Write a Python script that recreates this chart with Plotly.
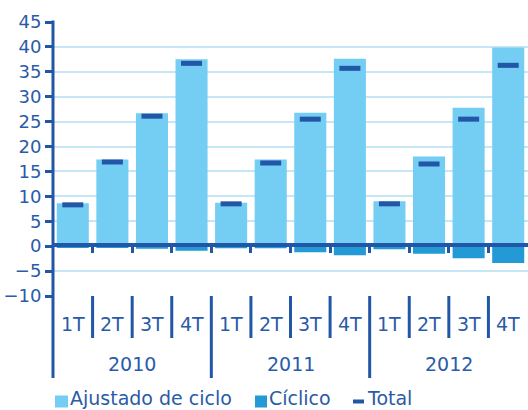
import plotly.graph_objects as go

# Quarterly breakdown: cycle-adjusted component, cyclical component and total
years = ["2010", "2011", "2012"]
quarters = ["1T", "2T", "3T", "4T"]
ajustado = [8.6, 17.4, 26.7, 37.5, 8.7, 17.4, 26.8, 37.6, 9.0, 18.0, 27.8, 39.9]
ciclico = [-0.2, -0.3, -0.5, -0.9, -0.4, -0.4, -1.2, -1.8, -0.6, -1.5, -2.4, -3.4]
total = [8.3, 16.9, 26.1, 36.7, 8.5, 16.7, 25.5, 35.7, 8.5, 16.5, 25.5, 36.3]
y_ticks = [-10, -5, 0, 5, 10, 15, 20, 25, 30, 35, 40, 45]
series_names = ["Ajustado de ciclo", "Cíclico", "Total"]

LIGHT = "#74CDF3"
MID = "#2399D6"
DARK = "#2256A6"
TEXT = "#2A5BA8"
GRID = "#C6E6F6"
FONT = "DejaVu Sans"

n = len(ajustado)
xs = list(range(n))
x_range = [-0.5, n - 0.5]
y_min, y_max = y_ticks[0], y_ticks[-1]

# plot-area geometry in pixels (used to place decorations outside the axes)
W, H = 528, 410
ML, MR, MT, MB = 53, 0, 22, 114
plot_w = W - ML - MR
plot_h = H - MT - MB


def px_x(px):
    return (px - ML) / plot_w


def px_y(py):
    return (H - MB - py) / plot_h


fig = go.Figure()
fig.add_trace(go.Bar(x=xs, y=ajustado, name=series_names[0], showlegend=False,
                     marker=dict(color=LIGHT, line=dict(width=0))))
fig.add_trace(go.Bar(x=xs, y=ciclico, name=series_names[1], showlegend=False,
                     marker=dict(color=MID, line=dict(width=0))))
fig.add_trace(go.Scatter(x=xs, y=total, name=series_names[2], mode="markers",
                         xaxis="x2", showlegend=False,
                         marker=dict(symbol="line-ew", size=15, color=DARK,
                                     line=dict(width=5, color=DARK))))

# separators under the plot: short ones between quarters, long ones between years
q_bottom = px_y(338)
y_bottom = px_y(378)
shapes = [dict(type="line", xref="paper", yref="paper", x0=0, x1=0,
               y0=px_y(20.5), y1=y_bottom, line=dict(color=DARK, width=3))]
per_year = len(quarters)
for k in range(1, n):
    is_year = k % per_year == 0
    shapes.append(dict(type="line", xref="x", yref="paper", x0=k - 0.5, x1=k - 0.5,
                       y0=0, y1=y_bottom if is_year else q_bottom,
                       line=dict(color=DARK, width=3)))

lab_font = dict(family=FONT, size=19, color=TEXT)
annotations = []
for i in xs:
    annotations.append(dict(x=i, y=px_y(324), xref="x", yref="paper",
                            text=quarters[i % per_year], showarrow=False,
                            yanchor="middle", font=lab_font))
for j, yr in enumerate(years):
    annotations.append(dict(x=j * per_year + (per_year - 1) / 2, y=px_y(364),
                            xref="x", yref="paper", text=yr, showarrow=False,
                            yanchor="middle", font=lab_font))

# legend row: swatches drawn as shapes, names as text sitting on the bottom edge
swatches = [(55, 68, 395.5, 407.5, LIGHT), (255, 267, 395.5, 407.5, MID),
            (353, 364, 399.5, 403.5, DARK)]
text_x = [69, 268, 366]
for (x0, x1, y0, y1, col), tx, name in zip(swatches, text_x, series_names):
    shapes.append(dict(type="rect", xref="paper", yref="paper",
                       x0=px_x(x0), x1=px_x(x1), y0=px_y(y1), y1=px_y(y0),
                       fillcolor=col, line=dict(width=0)))
    annotations.append(dict(x=px_x(tx), y=px_y(H), xref="paper", yref="paper",
                            text=name, showarrow=False, xanchor="left",
                            yanchor="bottom", borderpad=0, font=lab_font))

fig.update_layout(
    width=W, height=H,
    margin=dict(l=ML, r=MR, t=MT, b=MB),
    paper_bgcolor="white", plot_bgcolor="white",
    barmode="relative", bargap=0.19,
    font=dict(family=FONT, color=TEXT),
    showlegend=False,
    xaxis=dict(range=x_range, showticklabels=False, showgrid=False, zeroline=False,
               showline=False, ticks=""),
    xaxis2=dict(range=x_range, overlaying="x", anchor="free",
                position=(0 - y_min) / (y_max - y_min) + 0.006, side="bottom",
                showline=True, linecolor=DARK, linewidth=4,
                ticks="outside", ticklen=6, tickwidth=3, tickcolor=DARK,
                tickmode="array", tickvals=[k - 0.5 for k in range(1, n)],
                showticklabels=False, showgrid=False, zeroline=False,
                layer="above traces"),
    yaxis=dict(range=[y_min, y_max], tickmode="array", tickvals=y_ticks,
               showgrid=True, gridcolor=GRID, gridwidth=2, zeroline=False,
               showline=False, ticks="outside", ticklen=7, tickwidth=3,
               tickcolor=DARK, tickfont=dict(family=FONT, size=18, color=TEXT)),
    shapes=shapes,
    annotations=annotations,
)

fig.write_html("out.html")
